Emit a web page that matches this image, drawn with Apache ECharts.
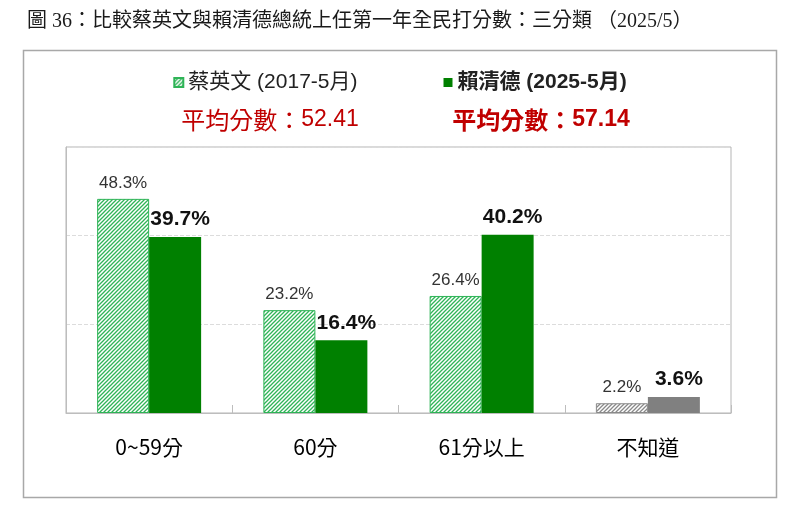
<!DOCTYPE html>
<html>
<head>
<meta charset="utf-8">
<script src="https://cdn.jsdelivr.net/npm/echarts@6/dist/echarts.min.js"></script>
<style>
  html, body { margin: 0; padding: 0; background: #fff; }
  #main { width: 800px; height: 518px; }
</style>
</head>
<body>
<div id="main"></div>
<script>
const categories = ['0~59分', '60分', '61分以上', '不知道'];
const tsaiValues = [48.3, 23.2, 26.4, 2.2];
const laiValues = [39.7, 16.4, 40.2, 3.6];
const seriesNames = ['蔡英文 (2017-5月)', '賴清德 (2025-5月)'];
const averages = ['52.41', '57.14'];

// small striped tile used as a fill pattern
function hatch(line) {
  const c = document.createElement('canvas');
  c.width = 4;
  c.height = 4;
  const ctx = c.getContext('2d');
  ctx.fillStyle = '#fff';
  ctx.fillRect(0, 0, 4, 4);
  ctx.strokeStyle = line;
  ctx.lineWidth = 1.3;
  ctx.beginPath();
  ctx.moveTo(-1, 5); ctx.lineTo(5, -1);
  ctx.moveTo(-1, 1); ctx.lineTo(1, -1);
  ctx.moveTo(3, 5); ctx.lineTo(5, 3);
  ctx.stroke();
  return { image: c, repeat: 'repeat' };
}

const greenHatch = hatch('#2fb457');
const grayHatch = hatch('#8a8a8a');

const sans = '"Liberation Sans", "Noto Sans CJK TC", sans-serif';
const cjk = '"Noto Sans CJK TC", sans-serif';
const serif = '"Liberation Serif", "Noto Sans CJK TC", serif';

const chart = echarts.init(document.getElementById('main'));
chart.setOption({
  textStyle: { fontFamily: sans },
  title: {
    text: '圖 36：比較蔡英文與賴清德總統上任第一年全民打分數：三分類 （2025/5）',
    left: 22,
    top: 7,
    textStyle: { fontSize: 20, fontWeight: 'normal', color: '#1a1a1a', fontFamily: serif }
  },
  legend: {
    top: 67,
    left: 'center',
    itemWidth: 9,
    itemHeight: 9,
    itemGap: 86,
    icon: 'rect',
    formatter: (name) => name === seriesNames[1] ? '{b|' + name + '}' : name,
    textStyle: {
      fontSize: 21,
      color: '#222',
      fontFamily: sans,
      rich: { b: { fontSize: 21, fontWeight: 'bold', color: '#222', fontFamily: sans } }
    }
  },
  graphic: [
    {
      type: 'rect',
      shape: { x: 23.5, y: 50.5, width: 753, height: 447 },
      style: { fill: 'none', stroke: '#a8a8a8', lineWidth: 1.5 },
      silent: true
    },
    {
      type: 'text',
      x: 270, y: 120,
      style: {
        text: '{c|平均分數：}{n|' + averages[0] + '}',
        rich: {
          c: { fontSize: 24, fontFamily: cjk, fill: '#c00000' },
          n: { fontSize: 23, fontFamily: sans, fill: '#c00000' }
        },
        textAlign: 'center', textVerticalAlign: 'middle'
      }
    },
    {
      type: 'text',
      x: 541, y: 120,
      style: {
        text: '{c|平均分數：}{n|' + averages[1] + '}',
        rich: {
          c: { fontSize: 24, fontWeight: 'bold', fontFamily: cjk, fill: '#c00000' },
          n: { fontSize: 23, fontWeight: 'bold', fontFamily: sans, fill: '#c00000' }
        },
        textAlign: 'center', textVerticalAlign: 'middle'
      }
    }
  ],
  grid: {
    left: 66, top: 147, right: 69, bottom: 105,
    show: true,
    borderColor: '#b5b5b5',
    borderWidth: 1
  },
  xAxis: {
    type: 'category',
    data: categories,
    axisLine: { lineStyle: { color: '#bdbdbd' } },
    axisTick: { show: true, inside: true, length: 8, lineStyle: { color: '#bdbdbd' } },
    axisLabel: { fontSize: 21, color: '#000', margin: 24, fontFamily: cjk }
  },
  yAxis: {
    type: 'value',
    min: 0,
    max: 60,
    interval: 20,
    axisLabel: { show: false },
    axisLine: { show: true, lineStyle: { color: '#bdbdbd' } },
    splitLine: { lineStyle: { color: '#dcdcdc', type: 'dashed' } }
  },
  series: [
    {
      name: seriesNames[0],
      type: 'bar',
      barWidth: 52,
      barGap: '0%',
      itemStyle: { color: greenHatch, borderColor: '#2fb457', borderWidth: 1 },
      label: {
        show: true, position: 'top', distance: 7,
        formatter: '{c}%', fontSize: 17, color: '#333'
      },
      data: tsaiValues.map((v, i) => i === 3
        ? { value: v, itemStyle: { color: grayHatch, borderColor: '#8a8a8a' } }
        : v)
    },
    {
      name: seriesNames[1],
      type: 'bar',
      barWidth: 52,
      itemStyle: { color: '#008000' },
      label: {
        show: true, position: 'top', distance: 7, offset: [5, 0],
        formatter: '{c}%', fontSize: 21, fontWeight: 'bold', color: '#111'
      },
      data: laiValues.map((v, i) => i === 3
        ? { value: v, itemStyle: { color: '#808080' } }
        : v)
    }
  ]
});
</script>
</body>
</html>
